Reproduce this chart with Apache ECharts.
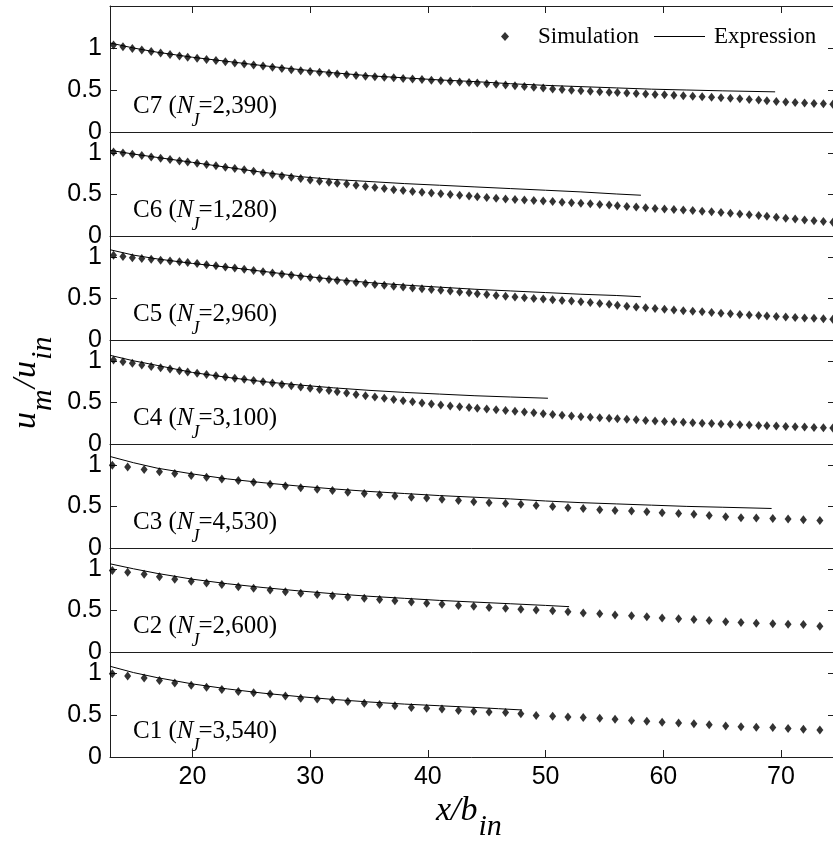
<!DOCTYPE html>
<html>
<head>
<meta charset="utf-8">
<script src="https://cdn.jsdelivr.net/npm/echarts@6/dist/echarts.min.js"></script>
<style>
  html, body { margin: 0; padding: 0; background: #fff; }
  #chart { width: 833px; height: 846px; }
</style>
</head>
<body>
<div id="chart"></div>
<script>
// Stream-wise stations x/b_in of the simulated centreline samples
const xDense = [13.3,14.1,14.9,15.7,16.5,17.3,18.1,18.9,19.6,20.4,
  21.2,22.0,22.8,23.6,24.4,25.2,26.0,26.8,27.6,28.4,
  29.2,30.0,30.8,31.6,32.3,33.1,33.9,34.7,35.5,36.3,
  37.1,37.9,38.7,39.5,40.3,41.1,41.9,42.7,43.5,44.2,
  45.0,45.8,46.6,47.4,48.2,49.0,49.8,50.6,51.4,52.2,
  53.0,53.8,54.6,55.4,56.1,56.9,57.7,58.5,59.3,60.1,
  60.9,61.7,62.5,63.3,64.1,64.9,65.7,66.5,67.3,68.1,
  68.8,69.6,70.4,71.2,72.0,72.8,73.6,74.4];
const xSparse = [13.2,14.5,15.9,17.2,18.5,19.9,21.2,22.5,23.9,25.2,
  26.6,27.9,29.2,30.6,31.9,33.2,34.6,35.9,37.2,38.6,
  39.9,41.2,42.6,43.9,45.2,46.6,47.9,49.2,50.6,51.9,
  53.2,54.6,55.9,57.3,58.6,59.9,61.3,62.6,63.9,65.3,
  66.6,67.9,69.3,70.6,71.9,73.3];

// Simulated centreline velocity u_m/u_in
const simC7 = [1.037,1.015,0.995,0.975,0.957,0.94,0.922,0.905,0.89,0.878,
  0.864,0.85,0.836,0.822,0.809,0.797,0.785,0.77,0.755,0.742,
  0.73,0.72,0.71,0.70,0.691,0.682,0.673,0.665,0.657,0.651,
  0.645,0.638,0.631,0.624,0.617,0.61,0.603,0.596,0.589,0.583,
  0.575,0.567,0.559,0.551,0.543,0.533,0.523,0.513,0.505,0.498,
  0.492,0.486,0.48,0.474,0.469,0.463,0.458,0.453,0.447,0.442,
  0.437,0.432,0.427,0.421,0.415,0.409,0.403,0.396,0.388,0.38,
  0.372,0.364,0.357,0.351,0.345,0.34,0.335,0.33];
const simC6 = [1.01,0.997,0.983,0.967,0.951,0.935,0.918,0.901,0.888,0.874,
  0.86,0.843,0.827,0.81,0.795,0.778,0.758,0.74,0.722,0.706,
  0.69,0.673,0.658,0.645,0.635,0.624,0.61,0.595,0.582,0.57,
  0.557,0.546,0.536,0.526,0.517,0.508,0.50,0.491,0.481,0.473,
  0.464,0.454,0.446,0.44,0.434,0.427,0.421,0.414,0.407,0.40,
  0.395,0.388,0.38,0.372,0.364,0.356,0.348,0.34,0.332,0.326,
  0.32,0.313,0.306,0.298,0.29,0.282,0.274,0.265,0.255,0.245,
  0.236,0.226,0.214,0.203,0.192,0.182,0.173,0.165];
const simC5 = [1.02,1.005,0.99,0.98,0.97,0.96,0.95,0.94,0.93,0.918,
  0.905,0.892,0.878,0.865,0.85,0.836,0.82,0.804,0.79,0.777,
  0.763,0.75,0.738,0.726,0.715,0.703,0.69,0.68,0.668,0.657,
  0.646,0.636,0.625,0.615,0.606,0.597,0.588,0.578,0.567,0.557,
  0.546,0.535,0.525,0.516,0.508,0.50,0.492,0.484,0.476,0.468,
  0.459,0.45,0.44,0.429,0.418,0.407,0.397,0.387,0.378,0.369,
  0.361,0.353,0.346,0.339,0.331,0.323,0.315,0.307,0.30,0.293,
  0.287,0.281,0.275,0.27,0.265,0.26,0.255,0.25];
const simC4 = [1.01,0.99,0.97,0.95,0.93,0.915,0.90,0.88,0.865,0.85,
  0.835,0.82,0.805,0.79,0.777,0.763,0.748,0.732,0.716,0.70,
  0.684,0.67,0.656,0.642,0.628,0.612,0.596,0.58,0.564,0.55,
  0.535,0.52,0.507,0.494,0.481,0.469,0.458,0.448,0.438,0.429,
  0.42,0.411,0.402,0.394,0.385,0.375,0.365,0.355,0.345,0.337,
  0.329,0.322,0.315,0.308,0.302,0.296,0.29,0.283,0.277,0.271,
  0.266,0.261,0.256,0.25,0.246,0.241,0.236,0.232,0.228,0.223,
  0.219,0.215,0.211,0.207,0.203,0.199,0.195,0.191];
const simC3 = [0.995,0.975,0.945,0.915,0.895,0.87,0.85,0.83,0.81,0.79,
  0.765,0.745,0.725,0.705,0.69,0.67,0.655,0.64,0.625,0.61,
  0.60,0.585,0.57,0.555,0.545,0.535,0.525,0.51,0.50,0.485,
  0.475,0.46,0.45,0.445,0.435,0.425,0.415,0.405,0.39,0.375,
  0.365,0.36,0.355,0.35,0.34,0.33];
const simC2 = [0.98,0.96,0.935,0.905,0.875,0.85,0.83,0.81,0.785,0.765,
  0.745,0.725,0.705,0.69,0.675,0.66,0.645,0.63,0.615,0.60,
  0.585,0.575,0.56,0.55,0.535,0.525,0.515,0.505,0.495,0.485,
  0.47,0.46,0.445,0.435,0.425,0.41,0.40,0.39,0.38,0.365,
  0.355,0.345,0.34,0.335,0.33,0.31];
const simC1 = [0.99,0.965,0.94,0.91,0.88,0.855,0.83,0.805,0.78,0.765,
  0.75,0.725,0.70,0.69,0.68,0.66,0.64,0.625,0.61,0.59,
  0.58,0.57,0.555,0.545,0.535,0.53,0.515,0.495,0.485,0.475,
  0.47,0.46,0.45,0.435,0.425,0.415,0.405,0.395,0.385,0.37,
  0.36,0.355,0.35,0.34,0.33,0.32];

// Decay expression, evaluated at a few stations per case
const exprC7X = [13,15,17,20,23,26,29,32,35,38,41,44,47,50,53,56,59,62,65,69.5];
const exprC7Y = [1.06,1.0,0.95,0.89,0.84,0.79,0.745,0.705,0.67,0.645,0.62,0.60,0.575,0.555,0.54,0.525,0.51,0.50,0.49,0.478];
const exprC6X = [13,15,17,20,23,26,29,32,35,38,41,44,47,50,53,56,58.1];
const exprC6Y = [1.03,0.985,0.945,0.885,0.825,0.765,0.715,0.68,0.655,0.63,0.61,0.59,0.57,0.55,0.53,0.505,0.49];
const exprC5X = [13,15,17,20,23,26,29,32,35,38,41,44,47,50,53,56,58.1];
const exprC5Y = [1.085,1.02,0.975,0.92,0.875,0.825,0.775,0.73,0.69,0.66,0.635,0.61,0.59,0.57,0.55,0.535,0.52];
const exprC4X = [13,15,17,20,23,26,29,32,35,38,41,44,47,50.2];
const exprC4Y = [1.066,1.0,0.945,0.86,0.80,0.75,0.71,0.675,0.645,0.62,0.60,0.58,0.565,0.55];
const exprC3X = [13,15,17,20,23,26,29,32,35,38,41,44,47,50,53,56,59,62,65,69.2];
const exprC3Y = [1.10,1.025,0.96,0.89,0.83,0.785,0.745,0.71,0.68,0.655,0.63,0.61,0.59,0.565,0.545,0.53,0.515,0.50,0.49,0.475];
const exprC2X = [13,15,17,20,23,26,29,32,35,38,41,44,47,50,52];
const exprC2Y = [1.06,1.0,0.945,0.875,0.82,0.775,0.735,0.70,0.67,0.645,0.62,0.60,0.58,0.56,0.545];
const exprC1X = [13,15,17,20,23,26,29,32,35,38,41,44,46,48];
const exprC1Y = [1.08,1.005,0.945,0.87,0.81,0.76,0.72,0.685,0.655,0.63,0.61,0.59,0.575,0.56];

// Case names and jet counts, top panel first
const caseNames = ['C7','C6','C5','C4','C3','C2','C1'];
const caseNJ = ['2,390','1,280','2,960','3,100','4,530','2,600','3,540'];
const xTicks = [20,30,40,50,60,70];
const yTicks = [0,0.5,1];

const simX = [xDense, xDense, xDense, xDense, xSparse, xSparse, xSparse];
const simY = [simC7, simC6, simC5, simC4, simC3, simC2, simC1];
const exprX = [exprC7X, exprC6X, exprC5X, exprC4X, exprC3X, exprC2X, exprC1X];
const exprY = [exprC7Y, exprC6Y, exprC5Y, exprC4Y, exprC3Y, exprC2Y, exprC1Y];

// Panel layout (pixels)
const PLOT_LEFT = 110, PLOT_WIDTH = 724;
const panelTop = [6, 132, 236, 340, 444, 548, 652];
const panelHeight = [126, 104, 104, 104, 104, 104, 105];
const panelYMax = [1.5, 1.25, 1.25, 1.25, 1.25, 1.25, 1.25];
const X_MIN = 13, X_MAX = 74.5;

const AXIS_COLOR = '#1e1e1e';
const SANS = '"Liberation Sans", Arial, sans-serif';
const SERIF = '"Liberation Serif", "Times New Roman", serif';
const TICK_FONT = 25;

const nPanels = caseNames.length;
const lastPanel = nPanels - 1;

const grid = [], xAxis = [], yAxis = [], series = [];
for (let i = 0; i < nPanels; i++) {
  grid.push({
    left: PLOT_LEFT, top: panelTop[i], width: PLOT_WIDTH, height: panelHeight[i],
    containLabel: false, outerBoundsMode: 'none', show: false
  });
  xAxis.push({
    gridIndex: i, type: 'value', min: X_MIN, max: X_MAX, position: 'bottom',
    axisLine: { show: true, onZero: false, lineStyle: { color: AXIS_COLOR, width: 1 } },
    axisTick: { show: i === lastPanel, inside: true, length: 7, customValues: xTicks,
      lineStyle: { color: AXIS_COLOR, width: 1 } },
    axisLabel: { show: i === lastPanel, customValues: xTicks, margin: 8,
      fontFamily: SANS, fontSize: TICK_FONT, color: '#000' },
    splitLine: { show: false }
  });
  yAxis.push({
    gridIndex: i, type: 'value', min: 0, max: panelYMax[i], position: 'left',
    axisLine: { show: true, onZero: false, lineStyle: { color: AXIS_COLOR, width: 1 } },
    axisTick: { show: true, inside: true, length: 7, customValues: yTicks,
      lineStyle: { color: AXIS_COLOR, width: 1 } },
    axisLabel: { show: true, customValues: yTicks, margin: 8,
      fontFamily: SANS, fontSize: TICK_FONT, color: '#000' },
    splitLine: { show: false }
  });
}
// mirrored ticks: top edge of the first panel and right edge of every panel
xAxis.push({
  gridIndex: 0, type: 'value', min: X_MIN, max: X_MAX, position: 'top',
  axisLine: { show: true, onZero: false, lineStyle: { color: AXIS_COLOR, width: 1 } },
  axisTick: { show: true, inside: true, length: 7, customValues: xTicks,
    lineStyle: { color: AXIS_COLOR, width: 1 } },
  axisLabel: { show: false }, splitLine: { show: false }
});
for (let i = 0; i < nPanels; i++) {
  yAxis.push({
    gridIndex: i, type: 'value', min: 0, max: panelYMax[i], position: 'right',
    axisLine: { show: true, onZero: false, lineStyle: { color: AXIS_COLOR, width: 1 } },
    axisTick: { show: true, inside: true, length: 6, customValues: yTicks,
      lineStyle: { color: AXIS_COLOR, width: 1 } },
    axisLabel: { show: false }, splitLine: { show: false }
  });
}

for (let i = 0; i < nPanels; i++) {
  series.push({
    name: 'Expression', type: 'line', xAxisIndex: i, yAxisIndex: i,
    data: exprX[i].map((x, k) => [x, exprY[i][k]]),
    symbol: 'none', smooth: false, silent: true, animation: false,
    lineStyle: { color: '#000', width: 1 }, itemStyle: { color: '#000' }, z: 3
  });
  series.push({
    name: 'Simulation', type: 'scatter', xAxisIndex: i, yAxisIndex: i,
    data: simX[i].map((x, k) => [x, simY[i][k]]),
    symbol: 'diamond', symbolSize: [7, 9], silent: true, animation: false,
    itemStyle: { color: '#000' }, z: 4
  });
}

// text measuring for the composed labels
const mctx = document.createElement('canvas').getContext('2d');
function textWidth(style, size, s) {
  mctx.font = `${style} ${size}px ${SERIF}`;
  return mctx.measureText(s).width;
}
function textEl(x, baseline, s, size, style) {
  return {
    type: 'text', x: x, y: baseline - 0.32 * size, silent: true,
    style: {
      text: s, fontSize: size, fontFamily: SERIF, fontStyle: style,
      fill: '#000', align: 'left', verticalAlign: 'middle',
      textAlign: 'left', textVerticalAlign: 'middle'
    }
  };
}

const graphic = [];
// case labels "Cn (N_J=...)"
const LBL = 25, LBL_SUB = 18;
for (let i = 0; i < nPanels; i++) {
  const zero = panelTop[i] + panelHeight[i];
  const base = zero - 18;
  let x = 133;
  const head = caseNames[i] + ' (';
  graphic.push(textEl(x, base, head, LBL, 'normal'));
  x += textWidth('normal', LBL, head);
  graphic.push(textEl(x, base, 'N', LBL, 'italic'));
  x += textWidth('italic', LBL, 'N') - 2;
  graphic.push(textEl(x, zero - 5, 'J', LBL_SUB, 'italic'));
  x += textWidth('italic', LBL_SUB, 'J') - 1;
  graphic.push(textEl(x, base, '=' + caseNJ[i] + ')', LBL, 'normal'));
}

// x-axis name: x/b_in
const NAME = 34, NAME_SUB = 30;
graphic.push(textEl(436, 822, 'x/b', NAME, 'italic'));
graphic.push(textEl(436 + textWidth('italic', NAME, 'x/b') + 1, 837, 'in', NAME_SUB, 'italic'));

// y-axis name: u_m/u_in, reading upwards
(function () {
  const parts = [
    ['u', NAME, 0], ['m', NAME_SUB, 16], ['/', NAME, 0], ['u', NAME, 0], ['in', NAME_SUB, 16]
  ];
  const children = [];
  let lx = 0;
  parts.forEach(([s, size, drop]) => {
    children.push(textEl(lx, 37 + drop, s, size, 'italic'));
    lx += textWidth('italic', size, s) + 1;
  });
  graphic.push({ type: 'group', x: 0, y: 429, rotation: Math.PI / 2, children: children });
})();

const chart = echarts.init(document.getElementById('chart'), null, { renderer: 'canvas' });
chart.setOption({
  animation: false,
  backgroundColor: '#fff',
  grid: grid,
  xAxis: xAxis,
  yAxis: yAxis,
  legend: [
    {
      data: [{ name: 'Simulation', icon: 'diamond' }],
      left: 496, top: 20, itemWidth: 8, itemHeight: 9, selectedMode: false,
      textStyle: { fontFamily: SERIF, fontSize: 23, color: '#000', padding: [0, 0, 0, 24] }
    },
    {
      data: [{ name: 'Expression', icon: 'rect' }],
      left: 649, top: 20, itemWidth: 51, itemHeight: 1, selectedMode: false,
      textStyle: { fontFamily: SERIF, fontSize: 23, color: '#000', padding: [0, 0, 0, 4] }
    }
  ],
  series: series,
  graphic: graphic
});
</script>
</body>
</html>
